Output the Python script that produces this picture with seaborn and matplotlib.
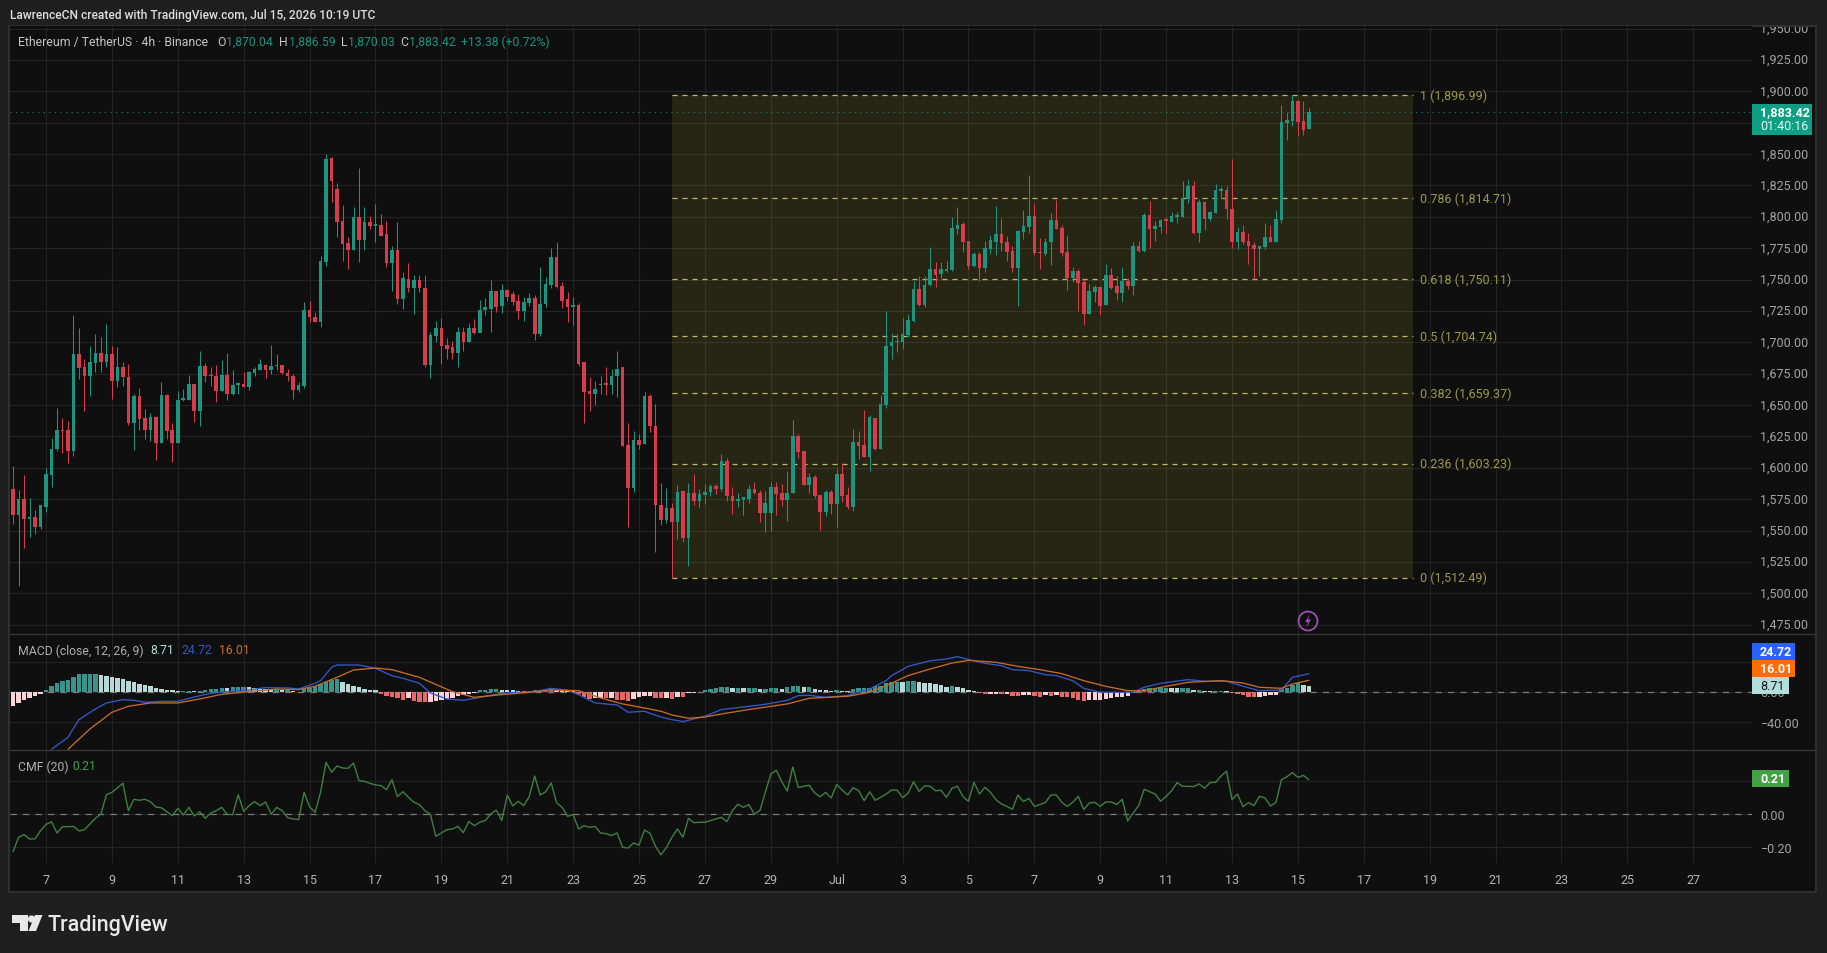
import numpy as np
import pandas as pd
import matplotlib
matplotlib.use("Agg")
import matplotlib.pyplot as plt
from matplotlib.patches import Rectangle, Polygon, Circle
from matplotlib.transforms import Bbox, ScaledTranslation
import seaborn as sns

# candles, 4h bars, one per x step (bar 0 = 7 June 00:00)
opens = [1583, 1562, 1575, 1559, 1560.5, 1553, 1568.5, 1594.5, 1615, 1630, 1630, 1613, 1690.7, 1680, 1673, 1683.5,
         1691.5, 1684, 1690.7, 1669.5, 1680, 1672, 1635.7, 1657, 1639.7, 1630.4, 1640.7, 1619.8, 1658, 1630, 1620,
         1654, 1654, 1666.8, 1645.5, 1680.8, 1673.5, 1673, 1661, 1674, 1658.8, 1666, 1667, 1664, 1675.5, 1678, 1682,
         1678, 1681, 1682, 1675.5, 1673.5, 1662, 1665,
         1725.7, 1720, 1716.4, 1764, 1846.5, 1822, 1796.6, 1779, 1773.8, 1799.5, 1781.7, 1795.5, 1793, 1793.5, 1786,
         1763, 1773.5, 1734.5, 1750.5, 1743, 1750, 1743, 1682, 1704.7, 1711.4, 1697.8, 1696, 1691.5, 1708.5, 1700,
         1711.4, 1707.4, 1725.7, 1726.5, 1740.6, 1729, 1741.6, 1738.5, 1733, 1725, 1731, 1735, 1706.6, 1730.6, 1745.6,
         1767.7, 1744.5, 1734.5, 1727.8, 1729.7, 1684, 1661, 1658.8, 1665.6, 1667, 1666, 1673, 1680, 1618, 1584, 1622.4,
         1619, 1657.5, 1633, 1570, 1558, 1567.7, 1556.5, 1581.8, 1544, 1580, 1573.5, 1578, 1581, 1585.7, 1583, 1605.7,
         1577.8, 1573.8, 1574.3, 1575, 1583, 1580, 1564, 1564, 1584.4, 1579.9, 1574.3, 1580, 1625.6, 1613.6, 1586.3,
         1593, 1578.3, 1564.5, 1580.4, 1571, 1595, 1578.3, 1568.5, 1620.8, 1618, 1608.3, 1639.7, 1615, 1650, 1697,
         1700, 1700.5, 1706, 1717.2, 1742.5, 1729.7, 1745.7, 1758.4, 1754.4, 1757, 1757.9, 1790.3, 1794, 1780.5, 1761,
         1770.4, 1759, 1774.3, 1780.2, 1786.3, 1779.6, 1772.5, 1759, 1788.2, 1791.6, 1800.4, 1771.7, 1770.4, 1780.2,
         1797.5, 1791, 1771.7, 1751, 1757, 1748.3, 1722.6, 1739.8, 1743.8, 1729.7, 1753.6, 1744.6, 1739.3, 1749, 1745.1,
         1777, 1773, 1801.4, 1790.3, 1791.6, 1797.7, 1795.6, 1800, 1800, 1814.2, 1824.8, 1787, 1812, 1798.2, 1803, 1820.6,
         1821.4, 1806.2, 1779.7, 1787.6, 1780.5, 1777.5, 1774.3, 1775.7, 1783.6, 1780.2, 1797.7, 1874.7, 1876, 1892.5,
         1876.6, 1870.04]
highs = [1601.7, 1582, 1594, 1576, 1566.6, 1570, 1600, 1623.7, 1648, 1640, 1637.6, 1721.7, 1711, 1687, 1697, 1706.6,
         1704, 1714.6, 1696.8, 1696, 1684, 1682.7, 1658.8, 1663.3, 1646.9, 1643.4, 1641.5, 1668, 1658.8, 1636, 1661,
         1663, 1674, 1666.8, 1693, 1683.5, 1680, 1681.9, 1686, 1691.5, 1678, 1668, 1676, 1677, 1680, 1686.7, 1682.7,
         1697.8, 1690.7, 1682, 1679, 1674.7, 1668, 1732,
         1733, 1724, 1769, 1850, 1848, 1826.6, 1809, 1783.6, 1808, 1839, 1808, 1801, 1810, 1802, 1797,
         1777, 1796, 1756, 1763, 1753.6, 1753.6, 1753.6, 1708, 1717, 1719, 1703, 1701, 1712, 1712, 1715.4,
         1718.6, 1733.7, 1735, 1749.6, 1741, 1746.4, 1742.4, 1741, 1738.5, 1735.8, 1739, 1738, 1759.7, 1751.7, 1774.8,
         1779.6, 1747.8, 1739.8, 1735.8, 1731, 1684, 1672, 1669.4, 1673, 1680, 1678.7, 1693, 1680.6, 1636, 1629.6, 1627,
         1660, 1658.8, 1650.8, 1588, 1583.6, 1572, 1586, 1581.8, 1588, 1595, 1583, 1587, 1587, 1587, 1611, 1607.5,
         1585, 1580, 1576.5, 1586.3, 1588.4, 1582.6, 1581.8, 1589, 1589, 1587, 1597.7, 1638, 1627, 1613.6, 1595.8,
         1594.2, 1578.3, 1582.6, 1582.6, 1599, 1603.5, 1585, 1631, 1629.6, 1646, 1642, 1639.7, 1658, 1725.2, 1707.4,
         1706.6, 1719, 1722.6, 1749, 1753, 1752.6, 1775.7, 1763.7, 1764.2, 1765, 1799.6, 1807.5, 1796, 1780.5, 1772.2,
         1772.2, 1781, 1785.5, 1808.9, 1799, 1785, 1777, 1789.7, 1805.7, 1833.3, 1810, 1782.8, 1782.8, 1802.8, 1813.4,
         1793.5, 1785.5, 1759.7, 1758.4, 1750.4, 1746.5, 1745.7, 1743.8, 1762.4, 1759, 1753, 1759.7, 1751, 1779.7, 1781,
         1802.8, 1812.8, 1796.9, 1798.3, 1799.6, 1803.6, 1803.6, 1828.8, 1830, 1828.8, 1814.2, 1812.8, 1804.9, 1826.1,
         1824.3, 1824.3, 1846, 1791.6, 1793.5, 1787, 1779.7, 1777, 1795, 1793.5, 1805.7, 1889, 1883.2, 1897, 1893.3, 1892,
         1886.59]
lows = [1555, 1506, 1536, 1545, 1547, 1551, 1564.5, 1585, 1613, 1612, 1604, 1609.7, 1670.7, 1645.5, 1657.5, 1676.6,
        1676.6, 1680, 1654.8, 1664.6, 1665.5, 1634, 1614.5, 1630, 1623, 1621.6, 1606, 1619.8, 1623, 1604.4, 1620,
        1653.5, 1654, 1636.8, 1633, 1668, 1665, 1652.7, 1661, 1654, 1658, 1659, 1664, 1662, 1673.4, 1678, 1671.5,
        1675, 1678, 1674.7, 1669.4, 1654.8, 1660, 1663.3,
        1716, 1716, 1712.5, 1761, 1812, 1783.6, 1765, 1758.4, 1773.8, 1764, 1773.8, 1790, 1779.6, 1784.4, 1759.7,
        1741, 1730.5, 1726.5, 1740, 1722.5, 1739.8, 1680, 1671.3, 1700, 1682.7, 1687, 1687, 1680, 1693.3, 1700,
        1706.6, 1708, 1722, 1708, 1724, 1723, 1733, 1730, 1718.6, 1717, 1729, 1702, 1705, 1728, 1743,
        1743, 1727, 1716, 1714, 1681, 1636, 1645.5, 1650, 1659, 1658, 1659, 1656, 1617, 1553, 1580.5, 1615,
        1619, 1628.8, 1533, 1554.4, 1556, 1512.49, 1543, 1541, 1522, 1570.3, 1568.5, 1571, 1577.8, 1579, 1581.8, 1573.8,
        1563.2, 1568.5, 1562.4, 1572, 1579, 1557, 1548.6, 1550, 1562.4, 1569.8, 1557.8, 1580, 1607.5, 1586.3, 1580,
        1575.6, 1550.4, 1561.8, 1563.2, 1553, 1572.5, 1567, 1565.8, 1607, 1608.3, 1597.7, 1614.4, 1615, 1648, 1687,
        1692.5, 1695, 1704, 1716.4, 1728.7, 1728, 1744.6, 1743.8, 1750.5, 1756, 1757, 1786.3, 1772.2, 1758, 1759.7,
        1749, 1756.3, 1770.4, 1769.6, 1773, 1765, 1756.3, 1729.2, 1782.3, 1787.1, 1769.6, 1758, 1769, 1761.6, 1790,
        1769, 1742, 1748, 1725.2, 1713.8, 1722.6, 1732.4, 1721.8, 1729.7, 1742.5, 1734, 1732.4, 1742.5, 1737.7, 1772.2,
        1772.2, 1774.9, 1781, 1787.1, 1787, 1795.6, 1795, 1799.6, 1811, 1786.3, 1780.2, 1789.7, 1797, 1803,
        1814.2, 1798.2, 1774.9, 1774.3, 1778, 1762.4, 1750.4, 1752.6, 1774.3, 1780, 1779.7, 1795, 1861.5, 1872.6, 1864.6,
        1865, 1870.03]
closes = [1562.4, 1575, 1559, 1560.5, 1553, 1570, 1595, 1615, 1630, 1629, 1613, 1690.7, 1679.5, 1673, 1684, 1691.5,
          1684, 1690.7, 1669, 1680, 1672, 1635.7, 1657.5, 1639, 1630.4, 1640.7, 1619.8, 1658, 1629.6, 1620, 1654,
          1654.8, 1666.8, 1645.5, 1680.8, 1673.4, 1673, 1661, 1674, 1658.8, 1666, 1667, 1664, 1676.6, 1678.7, 1682.7, 1678,
          1681, 1682, 1675.5, 1673, 1662, 1666, 1725.7,
          1720, 1716, 1765, 1846, 1828.7, 1796, 1778, 1773.8, 1799.5, 1781.7, 1795.5, 1793, 1793.5, 1785, 1763,
          1773.5, 1734.5, 1751, 1743, 1750, 1743, 1682, 1706, 1711.4, 1697.3, 1695, 1691.5, 1708.5, 1700, 1711.4,
          1707, 1725.7, 1728, 1740.6, 1728, 1741.6, 1736, 1732.4, 1725, 1731.8, 1735, 1706.6, 1730.5, 1746.4, 1767.7,
          1743.8, 1733, 1727.8, 1729.7, 1682.7, 1660.7, 1658.8, 1662.8, 1667, 1666, 1673, 1679, 1617.6, 1584, 1622.4, 1618.4,
          1657, 1633, 1570, 1558.7, 1567.7, 1556.5, 1581, 1544, 1580, 1573.5, 1579, 1581, 1585.7, 1583, 1605.7, 1577.8,
          1573.8, 1575, 1576.5, 1583, 1580, 1564, 1572, 1584.4, 1579, 1574, 1580, 1625.6, 1612.8, 1586.3, 1593,
          1577.2, 1564.5, 1581, 1571, 1595, 1577.8, 1568.5, 1620.8, 1617.6, 1608.8, 1640.2, 1615, 1650.8, 1697.3, 1700,
          1701, 1706.6, 1718, 1742.5, 1729.7, 1745.7, 1758.4, 1753.6, 1758.4, 1758, 1791, 1793.5, 1780.2, 1761, 1770.4,
          1759, 1775, 1781.5, 1786.3, 1779, 1772.2, 1759, 1788.4, 1793, 1800.4, 1771.2, 1771, 1780.2, 1797.5, 1790.3,
          1771.2, 1751, 1757, 1747.3, 1722.6, 1741.2, 1743.8, 1729.2, 1753.6, 1743, 1739.3, 1749, 1745.1, 1777, 1773,
          1801.4, 1790.3, 1793, 1797.7, 1797, 1801, 1801, 1814.7, 1824.8, 1787, 1812, 1798.2, 1803.6, 1821.4, 1821.6,
          1806.2, 1779.7, 1787.6, 1779.7, 1777, 1774.3, 1776.5, 1783.6, 1780.2, 1798.2, 1875.8, 1877.4, 1892.5, 1875.8,
          1869, 1883.42]

# MACD histogram, one per bar
macd_hist = [-17.8, -14.2, -10.2, -7.5, -5.3, -2.7, 2.7, 8, 12, 15.5, 17, 21, 24, 24.4, 24.4, 24.4, 23.5, 22, 21, 19,
             17.8, 15.5, 13.3, 10.7, 9.8, 8, 5.8, 4.4, 3.1, 2.7, 1.8, 1.8, 2.2, 1.8, 1.8, 3.1, 4, 4.4, 5.8, 5.3, 6.7,
             7.1, 7.1, 6.7, 5.8, 4.9, 4.4, 4, 4, 3.6, 3.6, 1.3, 0.9, 4.4, 5.3, 8, 11, 14, 17, 17.8, 13.3, 10.7, 9, 6.7,
             5, 3.6, 2.7, -2.2, -4.4, -6.2, -7.5, -9.8, -8, -11, -12.4, -13.3, -12.4, -11, -9.8, -8.9, -7, -5.3, -3.6,
             -1.8, -0.9, 2.7, 3.6, 4.4, 4.4, 3.6, 3.1, 2.7, 1.8, 1.2, 1.8, 2.7, 2.7, 3.6, 4.4, 3.6, 2.7, 2.2, 1.8, -2.7,
             -6.7, -8.9, -7.5, -7, -8, -8, -9.8, -10.7, -11.5, -8.9, -6.2, -5.3, -4.4, -7, -8, -8, -8.9, -6.2, -6.7,
             -1.3, -0.9, 0.9, 3.1, 4.4, 5.3, 6.7, 6.7, 5.3, 5.8, 5.3, 5.8, 5.8, 4.4, 4.4, 5.8, 5.8, 4.9, 6.7, 8.4, 8.4,
             6.7, 7.1, 4.4, 3.6, 3.1, 2.2, 3.1, 2.2, 1.8, 4.4, 5.3, 6.2, 6.2, 8, 8.9, 12.4, 13.3, 14.2, 13.3, 14.7, 15.1,
             13.3, 12.9, 12, 11.1, 9.8, 7.5, 8.4, 7.5, 5.8, 3.6, 1.8, -0.9, -1.8, -1.8, -1.8, -2.2, -2.2, -4.9, -5.3,
             -3.1, -3.1, -4.9, -5.8, -3.1, -4.4, -4, -5.8, -6.7, -8, -9.8, -11.1, -10.2, -9.8, -9.8, -8.4, -7.1, -6.7,
             -5.8, -4.4, -0.9, 1.3, 4.4, 5.3, 5.3, 5.3, 6.2, 5.8, 5.3, 5.3, 5.8, 2.7, 2.7, 2.2, 1.8, 1.8, 1.8, 1.3, -1.3,
             -2.7, -4, -5.8, -6.2, -5.8, -4.9, -4, -3.1, 4.4, 5.3, 10.2, 12, 9.8, 8.71]

# MACD and signal lines, read at the bars where they bend
macd_bars = [1, 4, 6, 9, 11, 14, 16, 18, 21, 24, 27, 30, 33, 37, 40, 44, 46, 49, 50, 52, 53, 57, 60, 63, 65, 68, 70, 73,
             76, 79, 83, 86, 89, 92, 95, 97, 100, 104, 106, 109, 112, 114, 116, 118, 120, 123, 126, 129, 131, 135, 137,
             139, 142, 146, 150, 153, 154, 157, 161, 164, 166, 169, 171, 174, 176, 179, 182, 184, 187, 189, 192, 198,
             200, 203, 208, 211, 215, 218, 221, 225, 227, 230]
macd_line = [-76, -60, -36.4, -22.2, -14.2, -9.8, -10.7, -13.3, -12, -12, -6.2, -1.3, 0.9, 3.1, 6.2, 5.8, 4.4, 12, 15.5,
             33.3, 36.4, 36.4, 32, 22.2, 18.6, 12, -0.9, -8.9, -10.7, -6.7, -1.3, 0, 0.9, 5.3, 2.7, -3.1, -14.2, -16.9,
             -26.6, -25.3, -33, -36.4, -39, -35.5, -32, -23, -20.4, -17.8, -16, -10.7, -4.4, -4, -6.7, -4.4, 4.4, 15.5,
             22.2, 34.6, 42, 44.4, 47.5, 42, 38.6, 35.5, 30.2, 28.9, 23.5, 22.2, 15.5, 5.3, 0, 0, 6.7, 12, 16.9, 14.7,
             14.7, 8, 2.2, 3.1, 20, 24.72]
signal_bars = [4, 8, 12, 15, 19, 24, 28, 32, 37, 42, 46, 49, 53, 56, 60, 63, 68, 74, 78, 83, 88, 92, 97, 101, 105, 109,
               112, 114, 117, 120, 123, 128, 135, 139, 146, 150, 153, 157, 161, 165, 168, 173, 177, 181, 185, 189, 193,
               197, 200, 204, 208, 214, 218, 221, 225, 227, 230]
signal_line = [-76, -48.8, -26.6, -18.6, -14.2, -14.2, -8.9, -2.7, 0.9, 4.4, 3.6, 8, 20, 29.7, 32.4, 30.2, 20, 0.9, -6.7,
               -3.1, 0, 3.1, 2.2, -7.5, -15.5, -20.9, -25.3, -30.2, -34.6, -32.9, -28.9, -23, -15.5, -8, -5.3, 0, 8.9,
               22.2, 31, 39, 42.6, 40, 34.6, 30.2, 24.9, 15.5, 8, 2.2, 2.2, 8, 13.3, 15.5, 12.4, 6.7, 5.3, 11, 16.01]

# CMF (20), one per bar
cmf_vals = [-0.226, -0.139, -0.123, -0.149, -0.149, -0.099, -0.061, -0.046, -0.113, -0.075, -0.075, -0.073, -0.101,
            -0.093, -0.059, -0.024, 0.002, 0.119, 0.133, 0.16, 0.188, 0.022, 0.091, 0.085, 0.091, 0.077, 0.044, 0.04,
            0.016, -0.008, 0.036, -0.004, 0.042, -0.01, 0.016, -0.024, 0.008, 0.022, 0.042, 0.0, -0.002, 0.119, 0.018,
            0.053, 0.077, 0.053, 0.075, 0.0, 0.042, 0.022, -0.02, -0.028, -0.032, 0.133, 0.046, 0.012, 0.133, 0.315,
            0.255, 0.293, 0.281, 0.279, 0.311, 0.204, 0.2, 0.188, 0.178, 0.174, 0.149, 0.21, 0.107, 0.137, 0.103, 0.073,
            0.059, 0.022, 0.0, -0.133, -0.113, -0.093, -0.089, -0.073, -0.111, -0.044, -0.069, -0.048, -0.038, 0.002,
            0.026, -0.038, 0.117, 0.051, 0.079, 0.053, 0.107, 0.232, 0.117, 0.137, 0.19, 0.069, 0.042, -0.012, -0.002,
            -0.089, -0.069, -0.079, -0.073, -0.113, -0.117, -0.129, -0.113, -0.2, -0.204, -0.174, -0.186, -0.095, -0.115,
            -0.194, -0.246, -0.2, -0.139, -0.089, -0.139, -0.024, -0.051, -0.048, -0.048, -0.038, -0.028, -0.018, -0.044,
            0.022, 0.061, 0.042, 0.059, 0.002, 0.022, 0.133, 0.244, 0.267, 0.198, 0.141, 0.287, 0.162, 0.17, 0.176,
            0.129, 0.107, 0.133, 0.099, 0.18, 0.147, 0.117, 0.162, 0.143, 0.083, 0.137, 0.085, 0.103, 0.123, 0.147,
            0.147, 0.101, 0.127, 0.198, 0.139, 0.172, 0.17, 0.143, 0.145, 0.103, 0.158, 0.17, 0.107, 0.079, 0.194, 0.123,
            0.164, 0.133, 0.089, 0.063, 0.048, 0.03, 0.117, 0.077, 0.097, 0.048, 0.059, 0.071, 0.117, 0.117, 0.073,
            0.048, 0.073, 0.109, 0.028, 0.069, 0.073, 0.048, 0.075, 0.075, 0.059, 0.091, -0.04, 0.008, 0.053, 0.152,
            0.137, 0.123, 0.079, 0.109, 0.143, 0.192, 0.17, 0.17, 0.168, 0.184, 0.158, 0.192, 0.194, 0.232, 0.261, 0.089,
            0.123, 0.046, 0.071, 0.053, 0.109, 0.099, 0.051, 0.071, 0.21, 0.228, 0.253, 0.224, 0.236, 0.21]

# fib retracement
fib_ratios = ["1", "0.786", "0.618", "0.5", "0.382", "0.236", "0"]
fib_levels = [1896.99, 1814.71, 1750.11, 1704.74, 1659.37, 1603.23, 1512.49]
fib_start, fib_end = 114, 249

# axis labels
day_labels = ["7", "9", "11", "13", "15", "17", "19", "21", "23", "25", "27", "29", "Jul", "3", "5", "7", "9", "11",
              "13", "15", "17", "19", "21", "23", "25", "27"]
price_ticks = [1950, 1925, 1900, 1875, 1850, 1825, 1800, 1775, 1750, 1725, 1700, 1675, 1650, 1625, 1600, 1575, 1550,
               1525, 1500, 1475]
last_price = 1883.42

W, H = 1827, 954
BG = "#1f1f1f"
PANE = "#0f0f0f"
GRID = "#232323"
TICK = "#a3a3a3"
UP = "#1b9480"
DOWN = "#d63c4c"
FIB = "#bdba62"
FIB_TXT = "#9d9a45"

sns.set_theme(style="dark", rc={"figure.facecolor": BG, "axes.facecolor": PANE, "axes.edgecolor": PANE,
                                "grid.color": GRID, "grid.linewidth": 0.8})
plt.rcParams["font.family"] = ["Roboto", "DejaVu Sans"]
FS = 9.0
LEG = 8.8

fig = plt.figure(figsize=(W / 100, H / 100), dpi=100)

# pixel-coordinate layers for the frame and the labels
under = fig.add_axes([0, 0, 1, 1], zorder=0)
under.set_xlim(0, W)
under.set_ylim(H, 0)
under.axis("off")
under.add_patch(Rectangle((9, 27), 1807, 866, fc=PANE, ec="#2f2f2f", lw=1.5))
page = fig.add_axes([0, 0, 1, 1], zorder=10)
page.set_xlim(0, W)
page.set_ylim(H, 0)
page.axis("off")
page.patch.set_alpha(0)


def pane(top, bottom):
    return fig.add_axes([10 / W, 1 - bottom / H, 1742 / W, (bottom - top) / H], zorder=2)


ax = pane(27, 635.3)
ax_macd = pane(635.3, 751.3)
ax_cmf = pane(751.3, 864)

bars = np.arange(-6, -6 + len(closes))
df = pd.DataFrame({"bar": bars, "open": opens, "high": highs, "low": lows, "close": closes,
                   "hist": macd_hist, "cmf": cmf_vals})
df["up"] = df["close"] >= df["open"]
df["col"] = np.where(df["up"], UP, DOWN)

# price pane
ax.vlines(df["bar"], df["low"], df["high"], colors=df["col"], lw=0.75, zorder=4)
ax.bar(df["bar"], (df["close"] - df["open"]).abs().clip(lower=1.2), bottom=df[["open", "close"]].min(axis=1),
       width=0.66, color=df["col"], lw=0, zorder=5)
ax.add_patch(Rectangle((fib_start, fib_levels[-1]), fib_end - fib_start, fib_levels[0] - fib_levels[-1],
                       fc="#c9bf30", alpha=0.13, lw=0, zorder=2))
ax.hlines(fib_levels, fib_start, fib_end, colors=FIB, lw=0.9, linestyles=[(0, (4, 4))], zorder=3)
ax.axhline(last_price, color="#177f6d", lw=0.8, ls=(0, (1, 4)), zorder=3)
ax.set_ylim(1467.3, 1952)

# macd pane, colours follow the usual rising/falling rule
hist_prev = df["hist"].shift(1).fillna(df["hist"])
df["hist_col"] = np.select([(df["hist"] >= 0) & (df["hist"] >= hist_prev), df["hist"] >= 0, df["hist"] < hist_prev],
                           ["#26a69a", "#b2dfdb", "#ff5252"], "#ffcdd2")
ax_macd.axhline(0, color="#7a7a7a", lw=0.9, ls=(0, (5, 5)), zorder=1)
sns.barplot(data=df, x="bar", y="hist", hue="hist_col", palette={c: c for c in df["hist_col"].unique()},
            native_scale=True, dodge=False, width=0.8, linewidth=0, errorbar=None, legend=False, ax=ax_macd, zorder=3)
sns.lineplot(x=macd_bars, y=macd_line, color="#3358c9", lw=0.95, ax=ax_macd, zorder=5)
sns.lineplot(x=signal_bars, y=signal_line, color="#c96a26", lw=0.95, ax=ax_macd, zorder=6)
ax_macd.set_ylim(-77.3, 77.3)

# cmf pane
ax_cmf.axhline(0, color="#7a7a7a", lw=0.9, ls=(0, (5, 5)), zorder=1)
sns.lineplot(data=df, x="bar", y="cmf", color="#3f7f42", lw=1.0, ax=ax_cmf, zorder=4)
ax_cmf.set_ylim(-0.295, 0.388)

tick_pos = np.arange(len(day_labels)) * 12
for a in (ax, ax_macd, ax_cmf):
    a.set_xlim(-6.56, 310.7)
    a.set_xticks(tick_pos)
    a.set_xlabel("")
    a.set_ylabel("")
    a.grid(True, axis="both", color=GRID, lw=0.8, zorder=0)
    a.set_axisbelow(True)
    a.tick_params(length=0, labelsize=FS, colors=TICK)
    a.yaxis.tick_right()
    sns.despine(ax=a, left=True, right=True, top=True, bottom=True)
ax.tick_params(axis="x", labelbottom=False)
ax_macd.tick_params(axis="x", labelbottom=False)
ax_cmf.set_xticklabels(day_labels)
ax_cmf.tick_params(axis="x", pad=7.5, labelsize=FS, labelcolor="#b5b5b5")

# labels that sit under a scale tag in the reference stay blank
ax.set_yticks(price_ticks)
ax.set_yticklabels(["" if p == 1875 else f"{p:,.2f}" for p in price_ticks])
ax_macd.set_yticks([40, 0, -40])
ax_macd.set_yticklabels(["", "0.00", "\u221240.00"])
ax_cmf.set_yticks([0.2, 0, -0.2])
ax_cmf.set_yticklabels(["", "0.00", "\u22120.20"])
for a, lift in ((ax, 1.7), (ax_macd, 0.8), (ax_cmf, 0.8)):
    a.tick_params(axis="y", pad=6.1)
    for lab in a.get_yticklabels():
        lab.set_transform(lab.get_transform() + ScaledTranslation(0, lift / 100, fig.dpi_scale_trans))
# top label of the price scale is cut by the frame
top_label = ax.get_yticklabels()[0]
top_label.set_clip_box(under.transData.transform_bbox(Bbox([[1748, 894], [1816, 28]])))
top_label.set_clip_on(True)

# fib labels
for ratio, level in zip(fib_ratios, fib_levels):
    ax.annotate(f"{ratio} ({level:,.2f})", (fib_end, level), xytext=(4.8, 0), textcoords="offset points",
                color=FIB_TXT, fontsize=FS, va="center", zorder=6)


def tag(x1, y1, y2, color, label, tcolor="white"):
    page.add_patch(Rectangle((1752, y1), x1 - 1752, y2 - y1, fc=color, lw=0, zorder=3))
    page.text(1760, (y1 + y2) / 2, label, color=tcolor, fontsize=FS, fontweight="bold", va="center", zorder=4)


# scale tags
page.add_patch(Rectangle((1752, 105), 60, 31, fc="#0e9f85", lw=0, zorder=3))
page.text(1760, 113, f"{last_price:,.2f}", color="white", fontsize=FS, fontweight="bold", va="center", zorder=4)
page.text(1760, 127, "01:40:16", color="#e6f5f1", fontsize=FS, va="center", zorder=4)
tag(1795, 644, 661, "#2962ff", "24.72")
tag(1795, 661, 678, "#ff6d00", "16.01")
page.add_patch(Rectangle((1752, 678), 37, 17, fc="#b2dfdb", lw=0, zorder=3))
page.text(1760, 686.5, "8.71", color="#131722", fontsize=FS, va="center", zorder=4)
tag(1789, 771.3, 788, "#43a047", "0.21")

# pane separators
page.plot([10, 1816], [635.3, 635.3], color="#363636", lw=1)
page.plot([10, 1816], [751.3, 751.3], color="#363636", lw=1)


def legend(x, y, label, color):
    page.text(x, y, label, color=color, fontsize=LEG, va="center")


# header and pane legends
page.text(10, 15, "LawrenceCN created with TradingView.com, Jul 15, 2026 10:19 UTC", color="#dedede", fontsize=8.65,
          fontweight="medium", va="center")
legend(18, 42.5, "Ethereum / TetherUS \u00b7 4h \u00b7 Binance", "#c4c4c4")
for x_k, k, x_v, v in [(217, "O", 226, opens[-1]), (279, "H", 289, highs[-1]), (341, "L", 348, lows[-1]),
                       (400.5, "C", 408.5, closes[-1])]:
    legend(x_k, 42.5, k, "#c4c4c4")
    legend(x_v, 42.5, f"{v:,.2f}", "#1b9480")
legend(461, 42.5, "+13.38 (+0.72%)", "#1b9480")
legend(18, 651, "MACD (close, 12, 26, 9)", "#b0b0b0")
legend(150, 651, "8.71", "#b2dfdb")
legend(182, 651, "24.72", "#3358c9")
legend(219, 651, "16.01", "#d0692a")
legend(18, 767, "CMF (20)", "#b0b0b0")
legend(72, 767, "0.21", "#43a047")

# alert badge
page.add_patch(Circle((1308, 622), 9.5, fc="none", ec="#9a4fb4", lw=1.3))
page.add_patch(Polygon([(1310, 615), (1305, 623), (1308, 623), (1306, 629), (1311, 620.5), (1308, 620.5)],
                       fc="#9a4fb4", lw=0))

# logo
logo = "#e8e8e8"
page.add_patch(Polygon([(12, 916), (28, 916), (28, 932), (20, 932), (20, 924), (12, 924)], fc=logo, lw=0))
page.add_patch(Circle((31.5, 920), 3.6, fc=logo, lw=0))
page.add_patch(Polygon([(35, 916), (42.5, 916), (36, 932), (28.5, 932)], fc=logo, lw=0))
page.text(48, 925.5, "TradingView", color=logo, fontsize=15.5, fontweight="medium", va="center")

fig.savefig("out.png", dpi=100, facecolor=BG)
